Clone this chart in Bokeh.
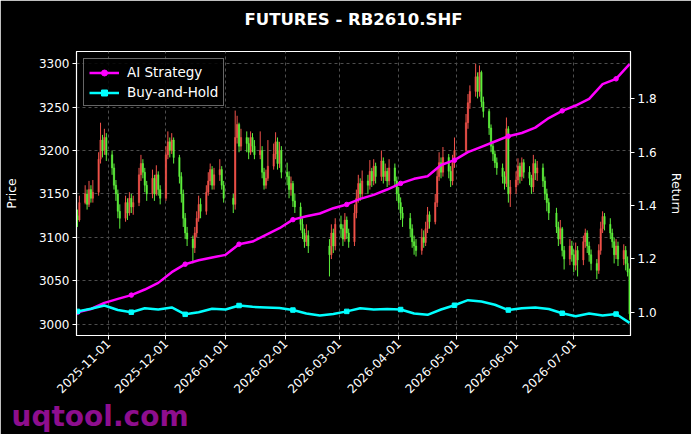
import math
import pandas as pd
from bokeh.plotting import figure
from bokeh.models import (Range1d, LinearAxis, FixedTicker, DatetimeTickFormatter,
                          Legend, LegendItem, ColumnDataSource, Title,
                          PrintfTickFormatter)
from bokeh.embed import file_html
from bokeh.resources import INLINE

TITLE = "FUTURES - RB2610.SHF"
WATERMARK = "uqtool.com"
START = "2025-10-16"
END = "2026-07-30"
HOLIDAYS = ["2026-01-01", "2026-01-02", "2026-02-16", "2026-02-17", "2026-02-18",
            "2026-02-19", "2026-02-20", "2026-02-23", "2026-04-06", "2026-05-01",
            "2026-05-04", "2026-05-05", "2026-06-19"]

FIRST_OPEN = 3125
CLOSE = [3120, 3140,
         3150, 3138, 3155, 3145, 3152,
         3190, 3212, 3200, 3215, 3195,
         3180, 3160, 3150, 3130, 3122,
         3140, 3128, 3145, 3135, 3140,
         3172, 3185, 3175, 3160, 3150,
         3168, 3150, 3172, 3155, 3145,
         3195, 3210, 3200, 3212, 3192,
         3170, 3150, 3122, 3105, 3098,
         3088, 3105, 3122, 3138, 3130,
         3152, 3165, 3178, 3160, 3172,
         3178, 3160, 3145,
         3138, 3215, 3230, 3205, 3215,
         3208, 3198, 3215, 3205, 3195,
         3200, 3175, 3160, 3168, 3182,
         3196, 3210, 3185, 3200, 3175,
         3170, 3155, 3162, 3142, 3135,
         3115, 3105, 3095, 3102, 3090,
         3080, 3105, 3090, 3115,
         3110, 3098, 3120, 3105, 3095,
         3128, 3145, 3162, 3150, 3165,
         3160, 3176, 3165, 3182, 3170,
         3188, 3170, 3176, 3165, 3180,
         3165, 3150, 3140, 3128, 3122,
         3110, 3095, 3090, 3085,
         3100, 3094, 3110, 3126, 3118,
         3140, 3170, 3186, 3175, 3192,
         3176, 3165, 3186, 3200,
         3232, 3255, 3268,
         3285, 3268, 3290, 3256, 3245,
         3226, 3205, 3196, 3186, 3180,
         3170, 3162, 3225, 3150, 3158,
         3166, 3182, 3170, 3186, 3175,
         3168, 3158, 3185, 3174, 3180,
         3165, 3150, 3140, 3128,
         3112, 3098, 3110, 3085, 3075,
         3090, 3080, 3068, 3085, 3074,
         3095, 3105, 3090, 3080, 3070,
         3062, 3085, 3110, 3124, 3115,
         3105, 3095, 3080, 3090, 3075,
         3085, 3070, 3060, 3012]
HIGH = [3132, 3148,
        3160, 3155, 3165, 3160, 3166,
        3198, 3232, 3218, 3225, 3220,
        3200, 3185, 3166, 3155, 3138,
        3148, 3145, 3152, 3150, 3148,
        3180, 3195, 3190, 3180, 3165,
        3178, 3172, 3183, 3176, 3160,
        3205, 3222, 3215, 3220, 3215,
        3195, 3175, 3155, 3128, 3112,
        3102, 3112, 3130, 3148, 3145,
        3160, 3175, 3185, 3182, 3180,
        3190, 3182, 3165,
        3150, 3246, 3240, 3232, 3225,
        3222, 3215, 3222, 3220, 3212,
        3222, 3205, 3180, 3178, 3212,
        3208, 3221, 3215, 3210, 3205,
        3186, 3176, 3170, 3165, 3150,
        3140, 3122, 3110, 3115, 3108,
        3098, 3115, 3110, 3122,
        3125, 3115, 3128, 3124, 3110,
        3138, 3155, 3172, 3168, 3177,
        3172, 3189, 3180, 3190, 3186,
        3200, 3192, 3185, 3180, 3190,
        3185, 3170, 3158, 3146, 3135,
        3128, 3115, 3102, 3098,
        3110, 3108, 3118, 3135, 3130,
        3150, 3180, 3198, 3192, 3204,
        3196, 3182, 3195, 3215,
        3242, 3265, 3275,
        3300, 3290, 3298, 3292, 3262,
        3248, 3230, 3210, 3200, 3192,
        3185, 3176, 3238, 3228, 3166,
        3176, 3191, 3186, 3192, 3190,
        3182, 3172, 3195, 3190, 3188,
        3185, 3170, 3156, 3145,
        3134, 3118, 3120, 3112, 3090,
        3098, 3096, 3086, 3094, 3090,
        3102, 3110, 3108, 3095, 3086,
        3075, 3092, 3118, 3130, 3128,
        3122, 3110, 3100, 3098, 3095,
        3092, 3090, 3078, 3064]
LOW = [3112, 3118,
       3138, 3132, 3135, 3140, 3140,
       3148, 3185, 3192, 3195, 3188,
       3172, 3155, 3142, 3122, 3110,
       3118, 3120, 3125, 3128, 3126,
       3136, 3165, 3168, 3152, 3142,
       3145, 3142, 3148, 3148, 3138,
       3142, 3190, 3192, 3196, 3185,
       3162, 3140, 3112, 3098, 3090,
       3070, 3082, 3100, 3118, 3122,
       3126, 3148, 3160, 3155, 3155,
       3165, 3155, 3140,
       3128, 3132, 3208, 3198, 3200,
       3198, 3190, 3195, 3198, 3190,
       3190, 3168, 3155, 3156, 3165,
       3178, 3190, 3178, 3180, 3168,
       3160, 3145, 3148, 3135, 3128,
       3108, 3098, 3088, 3090, 3082,
       3055, 3075, 3082, 3085,
       3100, 3090, 3095, 3098, 3088,
       3090, 3122, 3140, 3142, 3145,
       3150, 3155, 3158, 3160, 3162,
       3165, 3162, 3165, 3158, 3160,
       3158, 3142, 3132, 3120, 3112,
       3100, 3088, 3080, 3078,
       3080, 3088, 3090, 3105, 3110,
       3115, 3135, 3165, 3168, 3170,
       3168, 3158, 3160, 3180,
       3198, 3225, 3248,
       3262, 3260, 3262, 3250, 3238,
       3218, 3198, 3188, 3180, 3172,
       3162, 3155, 3158, 3140, 3135,
       3150, 3160, 3162, 3165, 3168,
       3160, 3150, 3152, 3166, 3165,
       3158, 3143, 3130, 3120,
       3105, 3090, 3092, 3078, 3063,
       3068, 3072, 3060, 3062, 3055,
       3068, 3088, 3082, 3072, 3062,
       3052, 3058, 3080, 3105, 3108,
       3098, 3088, 3070, 3075, 3067,
       3068, 3062, 3055, 3005]

# weekly samples of the two return curves (every 7 days from START)
AI_STRATEGY = [1.000, 1.012, 1.035, 1.050, 1.064, 1.085, 1.110, 1.150, 1.180, 1.195,
               1.205, 1.215, 1.255, 1.265, 1.290, 1.315, 1.347, 1.360, 1.370, 1.390,
               1.404, 1.425, 1.440, 1.460, 1.483, 1.500, 1.510, 1.552, 1.570, 1.600,
               1.620, 1.640, 1.660, 1.672, 1.692, 1.728, 1.755, 1.775, 1.800, 1.855,
               1.875, 1.930]
BUY_HOLD = [1.003, 1.013, 1.025, 1.008, 1.000, 1.015, 1.010, 1.018, 0.992, 1.000,
            1.013, 1.010, 1.025, 1.020, 1.018, 1.016, 1.008, 0.995, 0.988, 0.993,
            1.003, 1.015, 1.010, 1.012, 1.010, 0.995, 0.990, 1.010, 1.026, 1.045,
            1.040, 1.028, 1.008, 1.015, 1.018, 1.012, 0.996, 0.985, 0.995, 0.988,
            0.993, 0.960]

X_TICKS = ["2025-11-01", "2025-12-01", "2026-01-01", "2026-02-01", "2026-03-01",
           "2026-04-01", "2026-05-01", "2026-06-01", "2026-07-01"]
PRICE_TICKS = [3000, 3050, 3100, 3150, 3200, 3250, 3300]
RETURN_TICKS = [1.0, 1.2, 1.4, 1.6, 1.8]

FONT = "DejaVu Sans"
UP_COLOR = "#f0524a"
DOWN_COLOR = "#5ef03c"

dates = [d for d in pd.bdate_range(START, END) if d.strftime("%Y-%m-%d") not in HOLIDAYS]
n = min(len(dates), len(CLOSE))
dates = dates[:n]
opens = [FIRST_OPEN] + CLOSE[:n - 1]

def cdata(sel):
    idx = [i for i in range(n) if sel(i)]
    return ColumnDataSource(dict(
        date=[dates[i] for i in idx],
        open=[opens[i] for i in idx],
        close=[CLOSE[i] for i in idx],
        high=[HIGH[i] for i in idx],
        low=[LOW[i] for i in idx],
        top=[max(opens[i], CLOSE[i]) for i in idx],
        bottom=[min(opens[i], CLOSE[i]) for i in idx],
    ))

src_up = cdata(lambda i: CLOSE[i] >= opens[i])
src_dn = cdata(lambda i: CLOSE[i] < opens[i])

line_dates = list(pd.date_range(START, END, freq="7D"))[:len(AI_STRATEGY)]
line_src = ColumnDataSource(dict(date=line_dates, ai=AI_STRATEGY, bh=BUY_HOLD))
mark_src = ColumnDataSource(dict(date=line_dates[::4], ai=AI_STRATEGY[::4], bh=BUY_HOLD[::4]))

x_start = pd.Timestamp(START) - pd.Timedelta(hours=12)
x_end = pd.Timestamp(END) + pd.Timedelta(hours=12)

p = figure(width=691, height=434, x_axis_type="datetime",
           x_range=Range1d(x_start, x_end), y_range=Range1d(2987, 3314),
           output_backend="svg", toolbar_location=None,
           min_border_left=75, min_border_right=61, min_border_top=51, min_border_bottom=99,
           background_fill_color="black", border_fill_color="black")
p.extra_y_ranges = {"ret": Range1d(0.9126, 1.9775)}

p.title = Title(text=TITLE, align="center", text_color="white", text_font=FONT,
                text_font_size="16.5px", text_font_style="bold", standoff=0)
# empty spacer between the plot frame and the title
p.add_layout(Title(text=" ", text_font_size="10px", standoff=10, text_color="black"), "above")

p.outline_line_color = "white"
p.outline_line_width = 1.2

DAY_MS = 86400000
p.segment(x0="date", y0="low", x1="date", y1="high", source=src_up, color=UP_COLOR, line_width=1)
p.vbar(x="date", top="top", bottom="bottom", width=0.7 * DAY_MS, source=src_up,
       fill_color=UP_COLOR, line_color=UP_COLOR, line_width=0.5)
p.segment(x0="date", y0="low", x1="date", y1="high", source=src_dn, color=DOWN_COLOR, line_width=1)
p.vbar(x="date", top="top", bottom="bottom", width=0.7 * DAY_MS, source=src_dn,
       fill_color=DOWN_COLOR, line_color=DOWN_COLOR, line_width=0.5)

ai_line = p.line("date", "ai", source=line_src, color="#ff00ff", line_width=2.5, y_range_name="ret")
ai_mark = p.scatter("date", "ai", source=mark_src, marker="circle", size=4.5, color="#ff00ff",
                    y_range_name="ret")
bh_line = p.line("date", "bh", source=line_src, color="#00ffff", line_width=2.5, y_range_name="ret")
bh_mark = p.scatter("date", "bh", source=mark_src, marker="square", size=4.5, color="#00ffff",
                    y_range_name="ret")

# axes
xa = p.xaxis[0]
xa.ticker = FixedTicker(ticks=[pd.Timestamp(t).value / 1e6 for t in X_TICKS])
fmt = "%Y-%m-%d"
xa.formatter = DatetimeTickFormatter(milliseconds=fmt, seconds=fmt, minsec=fmt, minutes=fmt,
                                     hourmin=fmt, hours=fmt, days=fmt, months=fmt, years=fmt)
xa.major_label_orientation = math.pi / 4

ya = p.yaxis[0]
ya.ticker = FixedTicker(ticks=PRICE_TICKS)
ya.axis_label = "Price"

ra = LinearAxis(y_range_name="ret", ticker=FixedTicker(ticks=RETURN_TICKS), axis_label="Return",
                formatter=PrintfTickFormatter(format="%.1f"))
p.add_layout(ra, "right")

for ax in [xa, ya, ra]:
    ax.axis_line_color = "white"
    ax.major_tick_line_color = "white"
    ax.minor_tick_line_color = None
    ax.major_tick_out = 4
    ax.major_tick_in = 0
    ax.major_label_text_color = "white"
    ax.major_label_text_font = FONT
    ax.major_label_text_font_size = "12px"
    ax.axis_label_text_color = "white"
    ax.axis_label_text_font = FONT
    ax.axis_label_text_font_size = "12.5px"
    ax.axis_label_text_font_style = "normal"
    ax.major_label_standoff = 3
ya.axis_label_standoff = 17
ra.axis_label_standoff = 9
xa.major_label_standoff = 2

p.xgrid.grid_line_color = "#4d4d4d"
p.xgrid.grid_line_dash = "3 3"
p.ygrid.grid_line_color = "#4d4d4d"
p.ygrid.grid_line_dash = "3 3"

legend = Legend(items=[LegendItem(label="AI Strategy", renderers=[ai_line, ai_mark]),
                       LegendItem(label="Buy-and-Hold", renderers=[bh_line, bh_mark])],
                location="top_left", margin=7, padding=5, spacing=4,
                glyph_width=30, glyph_height=15, label_standoff=8,
                label_text_color="white", label_text_font=FONT, label_text_font_size="13.5px",
                background_fill_color="black", background_fill_alpha=0.85,
                border_line_color="#cccccc", border_line_width=1)
p.add_layout(legend)

# watermark below the date labels (a title in the bottom panel, so it is not clipped)
wm = Title(text=WATERMARK, align="left", offset=-65, standoff=-6, text_color="#8e0e8e",
           text_font=FONT, text_font_size="28px", text_font_style="bold")
p.add_layout(wm, "below")

open("out.html", "w").write(file_html(p, INLINE))
